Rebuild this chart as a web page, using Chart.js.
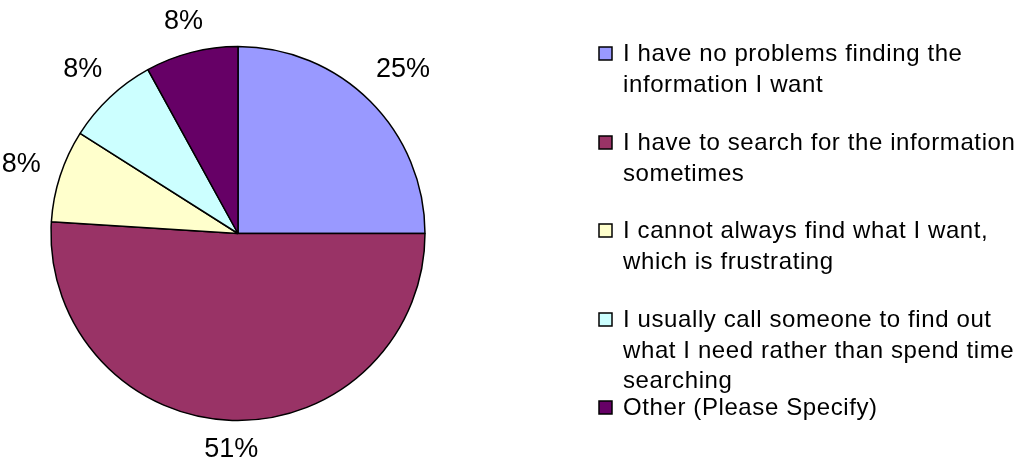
<!DOCTYPE html>
<html>
<head>
<meta charset="utf-8">
<title>Finding information</title>
<script src="https://cdn.jsdelivr.net/npm/chart.js@4/dist/chart.umd.min.js"></script>
<style>
  html, body { margin: 0; padding: 0; background: #fff; }
  #wrap { width: 1022px; height: 461px; }
</style>
</head>
<body>
<div id="wrap"><canvas id="pieChart" width="1022" height="461"></canvas></div>
<script>
// survey answers, each legend entry split the way it wraps
const categories = [
  ["I have no problems finding the", "information I want"],
  ["I have to search for the information", "sometimes"],
  ["I cannot always find what I want,", "which is frustrating"],
  ["I usually call someone to find out", "what I need rather than spend time", "searching"],
  ["Other (Please Specify)"]
];
const percents = [25, 51, 8, 8, 8];
const sliceColors = ["#9999FF", "#993366", "#FFFFCC", "#CCFFFF", "#660066"];

const FONT = "'Liberation Sans', Arial, sans-serif";

// percentage labels just outside each slice
const outsideLabels = {
  id: "outsideLabels",
  afterDatasetsDraw(chart) {
    const ctx = chart.ctx;
    const meta = chart.getDatasetMeta(0);
    ctx.save();
    ctx.font = "27px " + FONT;
    ctx.fillStyle = "#000";
    ctx.textAlign = "center";
    ctx.textBaseline = "middle";
    meta.data.forEach((arc, i) => {
      const p = arc.getProps(["x", "y", "startAngle", "endAngle", "outerRadius"], true);
      const mid = (p.startAngle + p.endAngle) / 2;
      const txt = chart.data.datasets[0].data[i] + "%";
      const w = ctx.measureText(txt).width;
      const h = 20;
      const ux = Math.cos(mid), uy = Math.sin(mid);
      const d = p.outerRadius + 15 + 1.2 * (Math.abs(ux) * w / 2 + Math.abs(uy) * h / 2);
      ctx.fillText(txt, p.x + ux * d, p.y + uy * d + 1);
    });
    ctx.restore();
  }
};

// legend on the right, wrapped lines
const sideLegend = {
  id: "sideLegend",
  afterDraw(chart) {
    const ctx = chart.ctx;
    const colors = chart.data.datasets[0].backgroundColor;
    const boxX = 599, textX = 623, firstBase = 61, itemStep = 88.5, lineStep = 30.5;
    ctx.save();
    ctx.font = "24px " + FONT;
    ctx.letterSpacing = "0.6px";
    ctx.textAlign = "left";
    ctx.textBaseline = "alphabetic";
    categories.forEach((lines, i) => {
      const base = Math.round(firstBase + i * itemStep);
      ctx.fillStyle = colors[i];
      ctx.fillRect(boxX, base - 14, 13, 13);
      ctx.strokeStyle = "#000";
      ctx.lineWidth = 1.5;
      ctx.strokeRect(boxX, base - 14, 13, 13);
      ctx.fillStyle = "#000";
      lines.forEach((line, j) => {
        ctx.fillText(line, textX, base + j * lineStep);
      });
    });
    ctx.restore();
  }
};

new Chart(document.getElementById("pieChart").getContext("2d"), {
  type: "pie",
  data: {
    labels: categories.map(l => l.join(" ")),
    datasets: [{
      data: percents,
      backgroundColor: sliceColors,
      borderColor: "#000",
      borderWidth: 1.5,
      radius: 187
    }]
  },
  options: {
    responsive: false,
    animation: false,
    layout: { padding: { left: 40, right: 586, top: 40, bottom: 34 } },
    plugins: {
      legend: { display: false },
      tooltip: { enabled: false }
    }
  },
  plugins: [outsideLabels, sideLegend]
});
</script>
</body>
</html>
